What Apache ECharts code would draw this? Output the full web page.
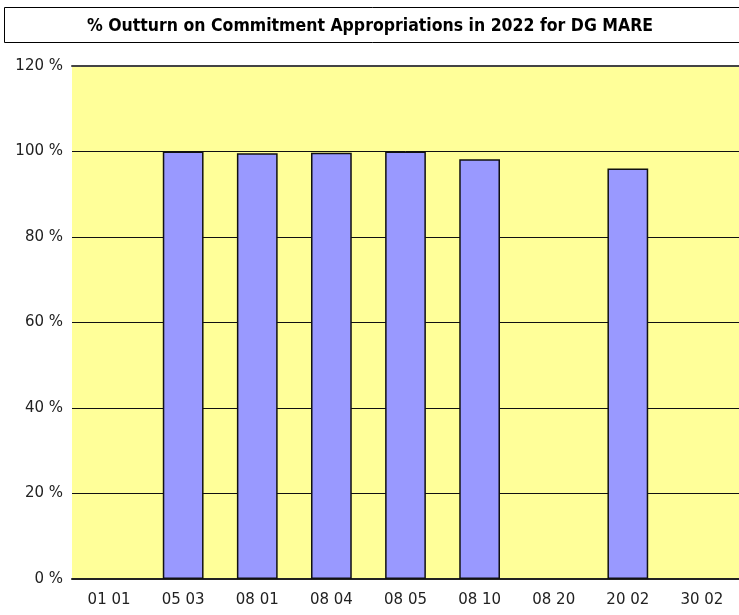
<!DOCTYPE html>
<html>
<head>
<meta charset="utf-8">
<script src="https://cdn.jsdelivr.net/npm/echarts@6/dist/echarts.min.js"></script>
<style>
html,body{margin:0;padding:0;background:#fff;}
#c{width:739px;height:615px;}
</style>
</head>
<body>
<div id="c"></div>
<script>
const titleText = '% Outturn on Commitment Appropriations in 2022 for DG MARE';
const categories = ['01 01','05 03','08 01','08 04','08 05','08 10','08 20','20 02','30 02'];
const values = [null, 100, 99.6, 99.7, 100, 98.2, null, 96.0, null];
const yTicks = [0, 20, 40, 60, 80, 100, 120];

const chart = echarts.init(document.getElementById('c'), null, {renderer:'canvas'});
const TFONT = '"DejaVu Sans Condensed", "DejaVu Sans", sans-serif';
const FONT = '"DejaVu Sans", sans-serif';
chart.setOption({
  animation:false,
  backgroundColor:'#ffffff',
  graphic:[
    {type:'rect', shape:{x:4.5, y:7.5, width:740, height:35}, style:{fill:'#fff', stroke:'#000', lineWidth:1}, z:1},
    {type:'text', x:370, y:26, style:{text:titleText, font:'bold 17.5px ' + TFONT, fill:'#000', align:'center', verticalAlign:'middle'}, z:2}
  ],
  grid:{left:72, right:0, top:66, bottom:36, show:true, backgroundColor:'#FFFF99', borderWidth:0},
  xAxis:[{
    type:'category', data:categories,
    axisLine:{show:true, lineStyle:{color:'#222', width:2}},
    axisTick:{show:false},
    axisLabel:{color:'#222', fontSize:15, fontFamily:FONT, margin:14},
    splitLine:{show:false}
  },{
    type:'category', data:categories, position:'top',
    axisLine:{show:true, lineStyle:{color:'#444', width:2}},
    axisTick:{show:false}, axisLabel:{show:false}, splitLine:{show:false}
  }],
  yAxis:{
    type:'value', min:0, max:120, interval:20,
    axisLine:{show:false},
    axisTick:{show:false},
    axisLabel:{color:'#222', fontSize:15, fontFamily:FONT, margin:9, formatter: v => yTicks.includes(v) ? v + ' %' : ''},
    splitLine:{show:true, lineStyle:{color:'#111', width:1}}
  },
  series:[{
    type:'bar', data:values, barWidth:'55%', xAxisIndex:0,
    itemStyle:{color:'#9999FF', borderColor:'#111', borderWidth:1.5},
    z:3
  }]
});
</script>
</body>
</html>
